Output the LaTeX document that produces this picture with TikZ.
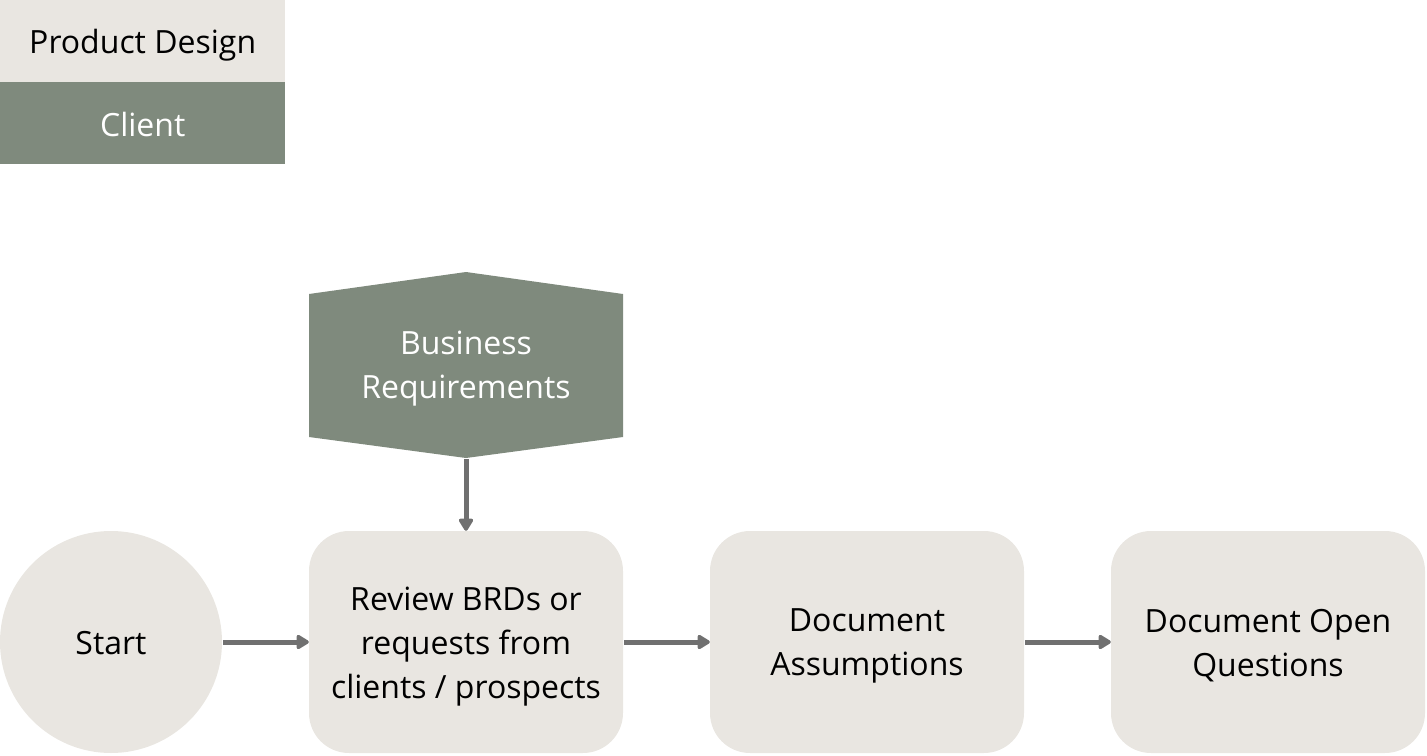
\documentclass[tikz,border=0pt]{standalone}
\usepackage{fontspec}
\setmainfont{Open Sans}
\usetikzlibrary{arrows.meta}
\definecolor{lightbox}{HTML}{E9E6E1}
\definecolor{greenbox}{HTML}{7F8A7D}
\definecolor{arrowgray}{HTML}{707070}
\begin{document}
\begin{tikzpicture}[x=1pt,y=-1pt,
  txt/.style={font=\fontsize{32}{44}\selectfont, align=center, inner sep=0pt},
  procbox/.style={fill=lightbox, rounded corners=40pt, minimum width=314pt, minimum height=222pt, inner sep=0pt},
  legbox/.style={minimum width=285pt, minimum height=82pt, inner sep=0pt, anchor=north west},
  flowarrow/.style={draw=arrowgray, line width=5pt, -{Triangle[round, length=14pt, width=16pt]}}
]
\useasboundingbox (0,0) rectangle (1427,755);
% legend
\node[legbox, fill=lightbox] (lpd) at (0,0) {};
\node[legbox, fill=greenbox] (lcl) at (0,82) {};
\node[txt, text=black] (lpdt) at ([yshift=-4pt]lpd.center) {Product Design};
\node[txt, text=white] (lclt) at ([yshift=-1pt]lcl.center) {Client};
% hexagon shape
\fill[greenbox] (466,272) -- (623,294) -- (623,437) -- (466,458) -- (309,437) -- (309,294) -- cycle;
\node[txt, text=white] (br) at (466,369) {Business\\Requirements};
\coordinate (brb) at (466,459);
% flow
\node[circle, fill=lightbox, minimum size=222pt, inner sep=0pt] (start) at (111,642) {};
\node[procbox] (rev) at (466,642) {};
\node[procbox] (ass) at (867,642) {};
\node[procbox] (oq) at (1268,642) {};
\node[txt] (startt) at ([yshift=-1pt]start.center) {Start};
\node[txt] (revt) at ([yshift=-4.5pt]rev.center) {Review BRDs or\\requests from\\clients / prospects};
\node[txt] (asst) at ([yshift=-4pt]ass.center) {Document\\Assumptions};
\node[txt] (oqt) at ([yshift=-4pt]oq.center) {Document Open\\Questions};
\draw[flowarrow] (brb) -- (rev.north);
\draw[flowarrow] (start.east) ++(1pt,0) -- (rev.west);
\draw[flowarrow] (rev.east) ++(1pt,0) -- (ass.west);
\draw[flowarrow] (ass.east) ++(1pt,0) -- (oq.west);
\end{tikzpicture}
\end{document}
